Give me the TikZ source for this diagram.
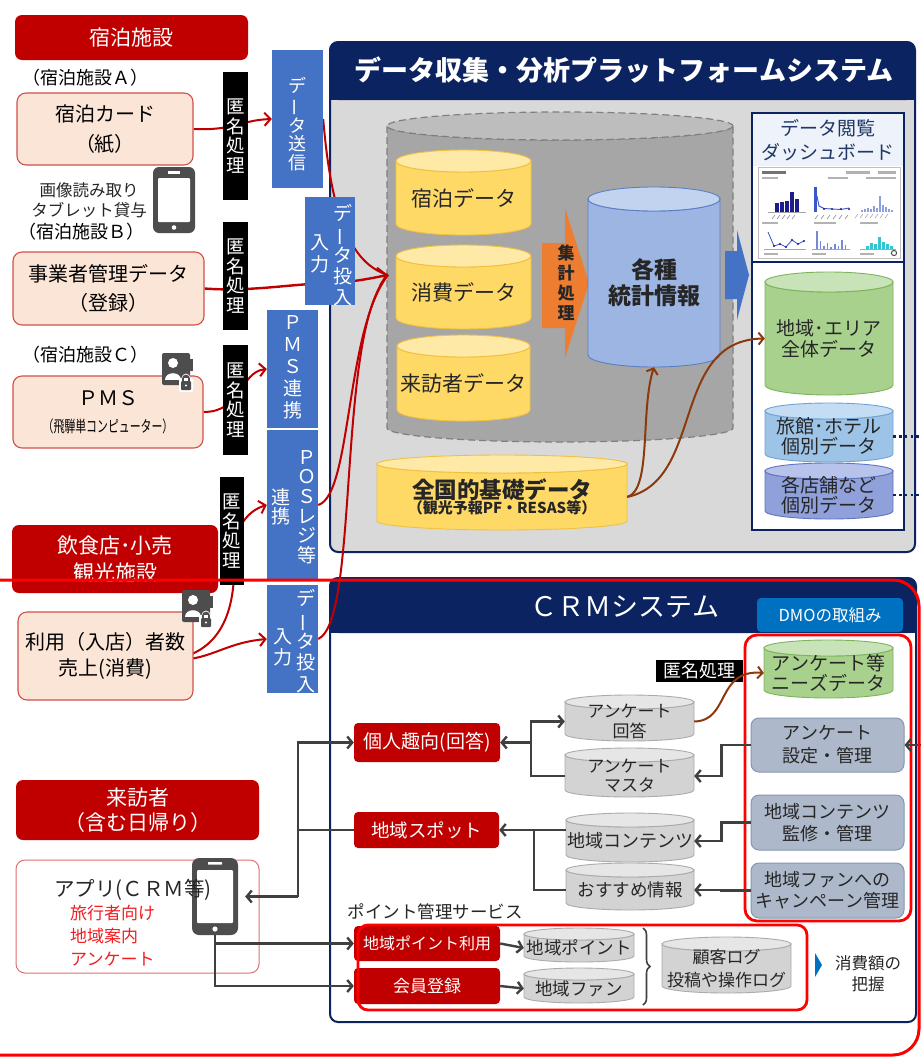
\documentclass[tikz,border=0pt]{standalone}
\usepackage{fontspec}
\usepackage{graphicx}
\setmainfont{Noto Sans CJK JP}
\usetikzlibrary{arrows.meta,calc,decorations.pathreplacing}

\newcommand{\fsz}[2]{\fontsize{#1}{#2}\selectfont}
% long vowel mark set upright for vertical writing
\newcommand{\vbar}{\rotatebox[origin=c]{90}{ー}}

\definecolor{navy}{HTML}{0B2461}
\definecolor{darkred}{HTML}{C00000}
\definecolor{brightred}{HTML}{FF0000}
\definecolor{pinkfill}{HTML}{FBE5D6}
\definecolor{cardline}{HTML}{D0504A}
\definecolor{appline}{HTML}{E07070}
\definecolor{apptext}{HTML}{F01E23}
\definecolor{blockblue}{HTML}{4472C4}
\definecolor{pfgray}{HTML}{D9D9D9}
\definecolor{orangeA}{HTML}{ED7D31}
\definecolor{brownA}{HTML}{8B3A0E}
\definecolor{lineg}{HTML}{404040}
\definecolor{icong}{HTML}{4D4D4D}
\definecolor{dmoblue}{HTML}{0070C0}
\definecolor{mgmtfill}{HTML}{ADB9CA}
\definecolor{mgmtline}{HTML}{8497B0}
\definecolor{dashtext}{HTML}{1F3864}
\definecolor{dashtop}{HTML}{EEF2FA}
\definecolor{chartnavy}{HTML}{1C1C8C}
\definecolor{chartblue}{HTML}{3A56C8}
\definecolor{chartlight}{HTML}{8C9FE0}
\definecolor{chartteal}{HTML}{33C6D0}
\definecolor{bigB}{HTML}{A6A6A6}
\definecolor{bigT}{HTML}{BDBDBD}
\definecolor{bigD}{HTML}{7F7F7F}
% drum colours: B body, T top face, D outline
\definecolor{yelB}{HTML}{FFD966}\definecolor{yelT}{HTML}{FFE9A6}\definecolor{yelD}{HTML}{F0C040}
\definecolor{bluB}{HTML}{9DB5E3}\definecolor{bluT}{HTML}{C2D3F0}\definecolor{bluD}{HTML}{5B7FC4}
\definecolor{grnB}{HTML}{A9D18E}\definecolor{grnT}{HTML}{C9E3B8}\definecolor{grnD}{HTML}{7DB35A}
\definecolor{lblB}{HTML}{9DC3E6}\definecolor{lblT}{HTML}{C5DDF2}\definecolor{lblD}{HTML}{6FA3D6}
\definecolor{pblB}{HTML}{8FA0DA}\definecolor{pblT}{HTML}{B7C3EA}\definecolor{pblD}{HTML}{5F75BF}
\definecolor{gryB}{HTML}{D3D3D3}\definecolor{gryT}{HTML}{E6E6E6}\definecolor{gryD}{HTML}{ABABAB}

\pgfdeclarelayer{bg}
\pgfdeclarelayer{front}
\pgfsetlayers{bg,main,front}

\tikzset{
  hdr/.style={fill=darkred, rounded corners=7pt, text=white, align=center, inner sep=0pt},
  card/.style={fill=pinkfill, draw=cardline, line width=1.1pt, rounded corners=9pt, align=center, inner sep=0pt},
  anon/.style={fill=black, text=white, inner sep=0pt, align=center},
  bblock/.style={fill=blockblue, inner sep=0pt},
  vtxt/.style={text=white, align=center, inner sep=0pt},
  plain/.style={align=center, inner sep=0pt},
  drumtext/.style={align=center, inner sep=0pt, text=black!85},
  redbox/.style={fill=darkred, rounded corners=4pt, text=white, inner sep=0pt, align=center},
  mgmt/.style={fill=mgmtfill, draw=mgmtline, line width=1pt, rounded corners=8pt, align=center, inner sep=0pt, text=black!85},
  rarrow/.style={draw=darkred, line width=2pt, -{Straight Barb[length=6pt,width=13pt]}},
  hubarrow/.style={draw=darkred, line width=2.4pt, -{Straight Barb[length=8pt,width=18pt]}},
  rline/.style={draw=darkred, line width=2pt},
  garrow/.style={draw=lineg, line width=2.4pt, -{Straight Barb[length=5pt,width=12pt]}},
  gline/.style={draw=lineg, line width=2.4pt},
  brarrow/.style={draw=brownA, line width=2pt, -{Straight Barb[length=5pt,width=12pt]}},
  sysframe/.style={draw=navy, line width=2pt, rounded corners=8pt, inner sep=0pt},
  redframe/.style={draw=brightred, line width=2.8pt},
  dotlink/.style={draw=navy, line width=2.6pt, dash pattern=on 2.6pt off 3.2pt},
}

% database drum: name, x1, y1, x2, y2, top radius, colour set, node options, text
\newcommand{\drum}[9]{%
  \path[fill=#7B,draw=#7D,line width=0.9pt] (#2,#3+#6) -- (#2,#5-#6)
    arc[start angle=180,end angle=0,x radius={(#4-#2)/2},y radius=#6]
    -- (#4,#3+#6)
    arc[start angle=0,end angle=180,x radius={(#4-#2)/2},y radius=#6] -- cycle;
  \path[fill=#7T,draw=#7D,line width=0.9pt] ({(#2+#4)/2},#3+#6) ellipse[x radius={(#4-#2)/2},y radius=#6];
  \node[drumtext,#8,minimum width={#4-#2},minimum height={#5-#3-#6}] (#1) at ({(#2+#4)/2},{(#3+#5+#6)/2}) {#9};
}

% contact card with padlock, top-left corner given
\newcommand{\idicon}[2]{%
  \begin{scope}[shift={(#1,#2)}]
    \fill[icong, rounded corners=2pt] (0,0) rectangle (28,32);
    \fill[icong] (27,6) rectangle (31,18);
    \fill[white] (11,10) circle (5);
    \fill[white] (3,27) .. controls (3,18) and (19,18) .. (19,27) -- cycle;
    \fill[white, rounded corners=1.5pt] (17,25) rectangle (31,39);
    \fill[icong, rounded corners=1pt] (19,28) rectangle (29,37);
    \draw[white, line width=1.6pt] (20.5,27) -- (20.5,25) arc[start angle=180,end angle=360,radius=3.5] -- (27.5,27);
    \draw[icong, line width=1.6pt] (21,28) -- (21,25.5) arc[start angle=180,end angle=360,radius=3] -- (27,28);
    \fill[white] (24,32.5) circle (1.2);
  \end{scope}}

\begin{document}
\begin{tikzpicture}[x=1pt,y=-1pt]
\useasboundingbox (0,0) rectangle (921,1058);

%================ data platform =================
\begin{pgfonlayer}{bg}
\fill[white] (0,0) rectangle (921,1058);
\node[sysframe, fill=pfgray, minimum width=585, minimum height=510] (pf) at (622.5,297) {};
\path[fill=navy, rounded corners=8pt] (330,42) rectangle (915,100);
\fill[navy] (331,85) rectangle (914,100);
\node[plain, text=white, font=\fsz{27}{30}\bfseries] (pfTitle) at (624,70) {データ収集・分析プラットフォームシステム};

% storage drum (dashed)
\path[fill=bigB, draw=bigD, line width=1.2pt, dash pattern=on 7pt off 4pt] (387,126) -- (387,428)
  arc[start angle=180,end angle=0,x radius=173,y radius=14] -- (733,126)
  arc[start angle=0,end angle=180,x radius=173,y radius=14] -- cycle;
\path[fill=bigT, draw=bigD, line width=1.2pt, dash pattern=on 7pt off 4pt] (560,126) ellipse[x radius=173,y radius=14];

\drum{stayData}{396}{150}{531}{235}{11}{yel}{font=\fsz{21}{24}}{宿泊データ}
\drum{spendData}{396}{245}{531}{329}{11}{yel}{font=\fsz{21}{24}}{消費データ}
\drum{visitData}{397}{335}{530}{421}{11}{yel}{font=\fsz{21}{24}}{来訪者データ}

% aggregation arrow
\fill[orangeA] (542,243) -- (565,243) -- (565,208) -- (589,283) -- (565,358) -- (565,328) -- (542,328) -- cycle;
\node[plain, font=\fsz{17}{20}\bfseries, text=black!85] (agg) at (566,283) {集\\計\\処\\理};

\drum{stats}{588}{187}{720}{367}{12}{blu}{font=\fsz{23}{26}\bfseries}{各種\\統計情報}

% publish arrow
\fill[blockblue] (725,251) -- (737,251) -- (737,230) -- (749,275) -- (737,320) -- (737,299) -- (725,299) -- cycle;

% dashboard panel
\node[draw=navy, line width=1.6pt, fill=white, minimum width=152, minimum height=417, inner sep=0pt] (dash) at (828,321.5) {};
\fill[dashtop] (753,114) rectangle (903,166);
\draw[navy, line width=1.6pt] (752,262) -- (904,262);
\node[plain, text=dashtext, font=\fsz{19}{24}] (dashTitle) at (828,140) {データ閲覧\\ダッシュボード};
% dashboard screenshot
\fill[white] (758,167) rectangle (900,258);
\draw[black!25, line width=0.4pt] (758,167) rectangle (900,258);
\fill[black!55] (762,171) rectangle (786,173.5);
\fill[black!30] (846,171) rectangle (870,173.5);
\fill[black!30] (878,171) rectangle (896,173.5);
\fill[black!30] (762,177) rectangle (778,179);
\fill[black!30] (828,177) rectangle (848,179);
\fill[black!30] (866,177) rectangle (896,179);
\foreach \i/\h in {0/9,1/10,2/11,3/20,4/13}{\fill[chartnavy] ({775+\i*5},{212-\h}) rectangle ({778.5+\i*5},212);}
\foreach \i in {0,...,4}{\draw[black!45, line width=0.6pt] ({775+\i*5},215) -- ({772+\i*5},219);}
\draw[black!35, line width=0.3pt] (768,212) -- (806,212);
\fill[chartblue] (814,187) rectangle (816.5,212);
\draw[chartblue, line width=0.9pt] (817,196) -- (819,206) -- (824,208.5) -- (832,209) -- (841,209.5) -- (849,208);
\foreach \x in {824,832,841,849}{\fill[chartnavy] (\x,209) circle (1.1);}
\foreach \i in {0,...,5}{\draw[black!45, line width=0.6pt] ({818+\i*6},215) -- ({815+\i*6},219);}
\foreach \i/\h in {0/2,1/3,2/4,3/3,4/6,5/4,6/16,7/7,8/5,9/3,10/2}{\fill[chartlight] ({861+\i*3},{212-\h}) rectangle ({862.6+\i*3},212);}
\foreach \i in {0,...,6}{\draw[black!40, line width=0.5pt] ({858+\i*5},214) -- ({855+\i*5},218);}
\foreach \x/\w in {762/16,814/22,860/18}{\fill[black!30] (\x,222) rectangle (\x+\w,224);}
\draw[chartblue, line width=0.8pt] (768,232) -- (774,246) -- (780,244) -- (786,247) -- (792,240) -- (798,244) -- (804,241);
\foreach \x/\y in {774/246,780/244,786/247,792/240,798/244,804/241}{\fill[chartnavy] (\x,\y) circle (1.2);}
\foreach \i/\h in {0/18,1/8,2/3,3/6,4/2,5/5,6/3,7/9,8/4}{\fill[chartblue!70] ({816+\i*3.6},{249-\h}) rectangle ({817.6+\i*3.6},249);}
\foreach \i/\h in {0/3,1/6,2/5,3/12,4/7,5/5,6/3}{\fill[chartteal] ({866+\i*4},{249-\h}) rectangle ({868.8+\i*4},249);}
\draw[black!35, line width=0.3pt] (764,249) -- (806,249) (812,249) -- (850,249) (860,249) -- (896,249);
\foreach \x in {764,812,860}{\fill[black!30] (\x,253) rectangle (\x+14,254.6);}
\draw[icong, line width=1pt] (894,253) circle (2.6);

\drum{areaData}{765}{272}{893}{395}{10}{grn}{font=\fsz{19}{21}}{地域･エリア\\全体データ}
\drum{innData}{765}{403}{893}{462}{8}{lbl}{font=\fsz{19}{20}}{旅館･ホテル\\個別データ}
\drum{storeData}{765}{463}{893}{519}{8}{pbl}{font=\fsz{19}{19.5}}{各店舗など\\個別データ}
\draw[dotlink] (innData.east) -- ++(29,0);
\draw[dotlink] (storeData.east) -- ++(29,0);

\drum{national}{377}{455}{627}{530}{9}{yel}{font=\bfseries}{{\fsz{22.5}{24}全国的基礎データ}\\[-1pt]{\fsz{15}{17}（観光予報PF・RESAS等）}}

\draw[brarrow] (national.east) .. controls (652,490) and (640,410) .. (stats.south);
\draw[brarrow] (national.east) .. controls (705,480) and (670,340) .. (areaData.west);

%================ CRM system =================
\node[sysframe, fill=white, minimum width=586, minimum height=444] (crm) at (623,800) {};
\path[fill=navy, rounded corners=8pt] (330,578) rectangle (916,633);
\fill[navy] (331,615) rectangle (915,633);
\node[plain, text=white, font=\fsz{27}{30}] (crmTitle) at (625,607) {ＣＲＭシステム};
\node[fill=dmoblue, rounded corners=4pt, minimum width=146, minimum height=34, inner sep=0pt, text=white, font=\fsz{16.5}{18}] (dmo) at (830,615) {DMOの取組み};

\drum{needs}{764}{640}{893}{698}{8}{grn}{font=\fsz{19}{20.5}}{アンケート等\\ニーズデータ}
\node[mgmt, minimum width=153, minimum height=54, font=\fsz{18}{23}] (mSurvey) at (827.5,745) {アンケート\\設定・管理};
\node[mgmt, minimum width=153, minimum height=55, font=\fsz{18}{22}] (mContents) at (827.5,822.5) {地域コンテンツ\\監修・管理};
\node[mgmt, minimum width=153, minimum height=55, font=\fsz{18}{21}] (mCampaign) at (827.5,890.5) {地域ファンへの\\キャンペーン管理};
\draw[redframe, rounded corners=12pt] (745,635) rectangle (911,921);

\drum{surveyAns}{565}{695}{694}{741}{7}{gry}{font=\fsz{17}{20}}{アンケート\\回答}
\drum{surveyMaster}{565}{748}{694}{797}{7}{gry}{font=\fsz{17}{19}}{アンケート\\マスタ}
\drum{contents}{566}{813}{694}{862}{7}{gry}{font=\fsz{18}{20}}{地域コンテンツ}
\drum{recommend}{566}{863}{694}{910}{7}{gry}{font=\fsz{17.5}{20}}{おすすめ情報}

\node[anon, minimum width=87, minimum height=22, font=\fsz{18}{20}] (anonH) at (699,671) {匿名処理};
\draw[brarrow] (surveyAns.east) .. controls (730,721) and (716,669) .. (needs.west);

\node[redbox, minimum width=146, minimum height=39, font=\fsz{19}{21}] (pref) at (427,742.5) {個人趣向(回答)};
\node[redbox, minimum width=145, minimum height=36, font=\fsz{18.5}{21}] (spot) at (426.5,830) {地域スポット};
\node[redbox, minimum width=146, minimum height=35, font=\fsz{16}{18}] (usePt) at (427,943.5) {地域ポイント利用};
\node[redbox, minimum width=146, minimum height=36, font=\fsz{17}{19}] (member) at (427,986) {会員登録};

\drum{ptStore}{524}{928}{634}{962}{6}{gry}{font=\fsz{17.5}{19}}{地域ポイント}
\drum{fanStore}{524}{968}{634}{1003}{6}{gry}{font=\fsz{17.5}{19}}{地域ファン}
\drum{logStore}{662}{937}{791}{993}{7}{gry}{font=\fsz{17}{23}}{顧客ログ\\投稿や操作ログ}
\draw[decorate, decoration={brace, amplitude=7pt}, draw=lineg, line width=1.6pt] (643,928) -- (643,1005);

\node[plain, font=\fsz{17.5}{20}, text=black!85] (ptService) at (435,912) {ポイント管理サービス};
\draw[redframe, rounded corners=10pt] (358,925) rectangle (807,1010);
\fill[dmoblue] (815,953) -- (822,965) -- (815,977) -- cycle;
\node[plain, font=\fsz{16.5}{21}, text=black!85] (grasp) at (868,974) {消費額の\\把握};

% CRM internal flows
\coordinate (bA) at (531,742.5);
\draw[garrow] (bA) -- (pref.east);
\draw[garrow] (surveyMaster.west) -| (bA) |- (surveyAns.west);
\draw[garrow] (mSurvey.west) -- ++(-29,0) |- (surveyMaster.east);
\draw[garrow] (mContents.west) -- ++(-29,0) |- (contents.east);
\draw[garrow] (mCampaign.west) -- ++(-29,0) |- (recommend.east);
\coordinate (bB) at (534,830);
\draw[gline] (contents.west |- bB) -- (bB);
\draw[garrow] (recommend.west) -| (bB) -- (spot.east);
\draw[garrow] (usePt.east) -- (ptStore.west);
\draw[garrow] (member.east) -- (fanStore.west);
\coordinate (rim) at (921,745);
\draw[garrow] (rim) -- (mSurvey.east);
\end{pgfonlayer}

%================ sources on the left =================
\node[hdr, minimum width=233, minimum height=45, font=\fsz{21}{24}] (hdrLodging) at (131.5,37.5) {宿泊施設};
\node[plain, font=\fsz{18}{20}] (tagA) at (86,78) {（宿泊施設Ａ）};
\node[card, minimum width=176, minimum height=72, font=\fsz{20}{30}] (cardA) at (105,129) {宿泊カード\\（紙）};
\node[plain, font=\fsz{16.5}{20}, text=black!85] (tabNote) at (89,200) {画像読み取り\\タブレット貸与};
\node[plain, font=\fsz{18}{20}] (tagB) at (82,232) {（宿泊施設Ｂ）};
\node[card, minimum width=191, minimum height=73, font=\fsz{20}{29}] (cardB) at (108.5,288.5) {事業者管理データ\\（登録）};
\node[plain, font=\fsz{18}{20}] (tagC) at (85,355) {（宿泊施設Ｃ）};
\node[card, minimum width=190, minimum height=72, font=\fsz{20}{27}] (cardC) at (108,412) {ＰＭＳ\\{\fsz{16}{18}\scalebox{0.68}[1]{（飛騨単コンピューター）}}};
\node[hdr, minimum width=206, minimum height=68, font=\fsz{21}{27}] (hdrShop) at (115,559) {飲食店･小売\\観光施設};
\node[card, minimum width=175, minimum height=88, font=\fsz{20}{26}] (cardShop) at (105.5,656) {利用（入店）者数\\売上(消費)};
\node[hdr, minimum width=243, minimum height=60, font=\fsz{21}{25}] (hdrVisitor) at (137.5,810) {来訪者\\（含む日帰り）};
\node[draw=appline, line width=1pt, fill=white, rounded corners=9pt, minimum width=243, minimum height=113, inner sep=0pt] (app) at (137.5,916.5) {};

% tablet
\node[fill=icong, rounded corners=6pt, minimum width=42, minimum height=66, inner sep=0pt] (tablet) at (174,200) {};
\fill[white, rounded corners=1pt] (158,178) rectangle (190,222);
\fill[white] (168,171) rectangle (180,173.5);
\fill[white] (174,227.5) circle (2.3);

\idicon{162}{353}
\idicon{182}{590}

% smartphone
\node[fill=icong, rounded corners=7pt, minimum width=46, minimum height=77, inner sep=0pt] (phone) at (215,896.5) {};
\fill[white, rounded corners=1pt] (197,870) rectangle (233,923);
\fill[white, rounded corners=0.5pt] (208,862) rectangle (222,864.5);
\fill[white] (215,929) circle (2.6);
\node[plain, font=\fsz{20.5}{22}, text=black!85] (appName) at (133,890) {アプリ(ＣＲＭ等)};
\node[anchor=north west, align=left, inner sep=0pt, font=\fsz{17}{23}, text=apptext] (appUse) at (70,905) {旅行者向け\\地域案内\\アンケート};

% anonymisation labels
\node[anon, minimum width=25, minimum height=128, font=\fsz{18.5}{19.5}] (anon1) at (235.5,136) {匿\\名\\処\\理};
\node[anon, minimum width=25, minimum height=108, font=\fsz{18.5}{19.5}] (anon2) at (235.5,276) {匿\\名\\処\\理};
\node[anon, minimum width=25, minimum height=110, font=\fsz{18.5}{19.5}] (anon3) at (235.5,400) {匿\\名\\処\\理};
\node[anon, minimum width=24, minimum height=108, font=\fsz{18.5}{19.5}] (anon4) at (232,531) {匿\\名\\処\\理};

% transfer channels
\node[bblock, minimum width=51, minimum height=138] (send) at (297.5,119) {};
\node[vtxt, font=\fsz{18}{18.5}] (sendTxt) at (297.5,124) {デ\\\vbar\\タ\\送\\信};
\node[bblock, minimum width=50, minimum height=108] (in1) at (330,251) {};
\node[vtxt, font=\fsz{19}{21}] (in1a) at (343,255) {デ\\\vbar\\タ\\投\\入};
\node[vtxt, font=\fsz{19}{22}] (in1b) at (320,254) {入\\力};
\node[bblock, minimum width=51, minimum height=118] (pms) at (292.5,369) {};
\node[vtxt, font=\fsz{19}{22}] (pmsTxt) at (293,367) {Ｐ\\Ｍ\\Ｓ\\連\\携};
\node[bblock, minimum width=51, minimum height=150] (pos) at (292.5,505) {};
\node[vtxt, font=\fsz{19}{19.6}] (posA) at (307,507) {Ｐ\\Ｏ\\Ｓ\\レ\\ジ\\等};
\node[vtxt, font=\fsz{19}{19}] (posB) at (281,507) {連\\携};
\node[bblock, minimum width=51, minimum height=108] (in2) at (292.5,639) {};
\node[vtxt, font=\fsz{19}{21.5}] (in2a) at (306,641) {デ\\\vbar\\タ\\投\\入};
\node[vtxt, font=\fsz{19}{21}] (in2b) at (283,647) {入\\力};

% app links into the CRM
\coordinate (jLow) at (298,896.5);
\coordinate (jMid) at (298,830);
\draw[garrow] (jLow) |- (pref.west);
\draw[gline] (jMid) -- (spot.west);
\draw[garrow, shorten >=7pt] (jLow) -- (phone.east);
\draw[garrow] (phone.south) |- (member.west);
\draw[garrow] (phone.south |- usePt.west) -- (usePt.west);

%================ data feeds, passing under the channel blocks =================
\coordinate (hub) at (388,275);
\coordinate (shopOut) at (168,660);
\begin{pgfonlayer}{bg}
\draw[rline] (send.east) .. controls (330,200) and (345,262) .. (hub);
\draw[rline] (pos.east) .. controls (352,495) and (345,330) .. (hub);
\draw[rline] (in2.east) .. controls (360,620) and (336,330) .. (hub);
\draw[hubarrow] (cardB.east) .. controls (250,292) and (290,284) .. (330,283) .. controls (355,282) and (372,278) .. (hub);
\draw[rarrow] (cardA.east) .. controls (232,131) and (242,120) .. (send.west);
\draw[rarrow] (cardC.east) .. controls (242,412) and (240,372) .. (pms.west);
\draw[rarrow] (shopOut) .. controls (215,655) and (236,620) .. (234,560) .. controls (233,525) and (250,510) .. (pos.west);
\draw[rarrow] (shopOut) .. controls (210,662) and (222,643) .. (in2.west);
\end{pgfonlayer}

\begin{pgfonlayer}{front}
\draw[brightred, line width=3pt, rounded corners=26pt] (0,580) -- (919,580) -- (919,1055) -- (0,1055);
\end{pgfonlayer}
\end{tikzpicture}
\end{document}
